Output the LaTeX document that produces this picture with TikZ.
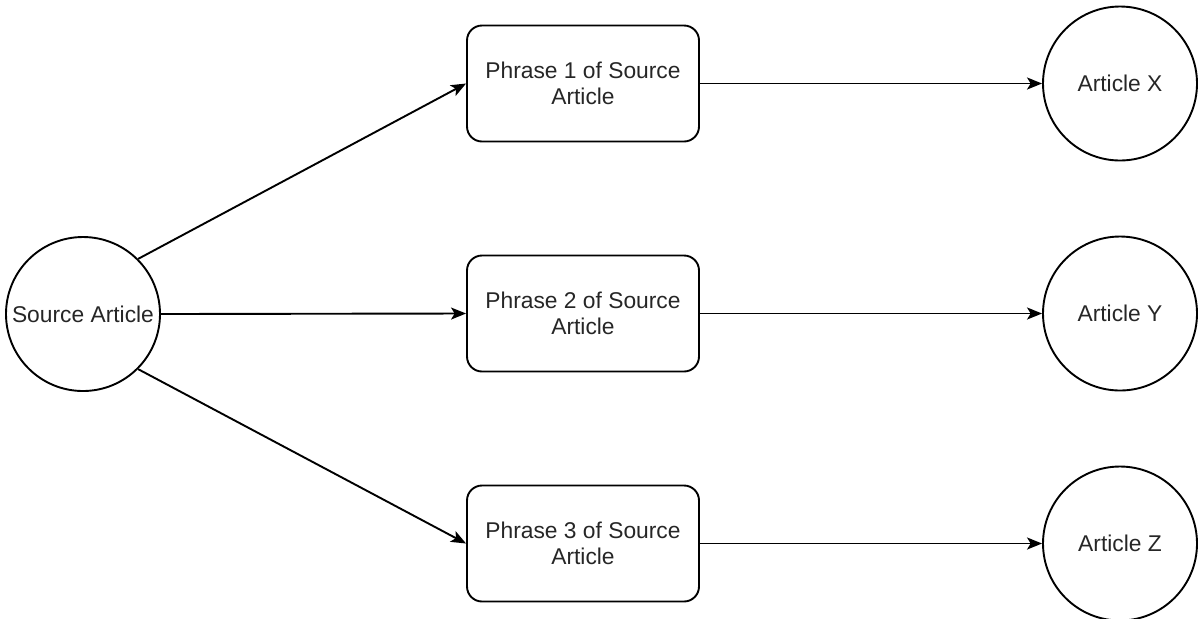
\documentclass[tikz,border=0pt]{standalone}
\usepackage{fontspec}
\setmainfont{Liberation Sans}
\usetikzlibrary{arrows.meta}
\begin{document}
\begin{tikzpicture}[x=0.5pt,y=-0.5pt,
  every node/.style={font=\fontsize{11.4}{13.3}\selectfont, text=black!85},
  article/.style={circle, draw, line width=0.95pt, minimum size=77pt, inner sep=0pt},
  phrase/.style={rectangle, rounded corners=7.5pt, draw, line width=0.95pt,
                 minimum width=116pt, minimum height=58pt, align=center, inner sep=0pt},
  link/.style={line width=0.95pt, -{Stealth[length=7.5pt,width=6pt,inset=1.8pt]}}]
\useasboundingbox (0,0) rectangle (1198,618);
\clip (0,0) rectangle (1198,618);
% source article
\node[article] (src) at (83,314) {Source Article};
% phrases of the source article
\node[phrase] (p1) at (583,83.5) {Phrase 1 of Source\\Article};
\node[phrase] (p2) at (583,313.5) {Phrase 2 of Source\\Article};
\node[phrase] (p3) at (583,543.5) {Phrase 3 of Source\\Article};
% linked articles
\node[article] (ax) at (1120,83.5) {Article X};
\node[article] (ay) at (1120,313.5) {Article Y};
\node[article] (az) at (1120,543.5) {Article Z};
% connectors
\draw[link] (src.45) -- (p1.west);
\draw[link] (src.east) -- (p2.west);
\draw[link] (src.-45) -- (p3.west);
\draw[link] (p1.east) -- (ax.west);
\draw[link] (p2.east) -- (ay.west);
\draw[link] (p3.east) -- (az.west);
\end{tikzpicture}
\end{document}
